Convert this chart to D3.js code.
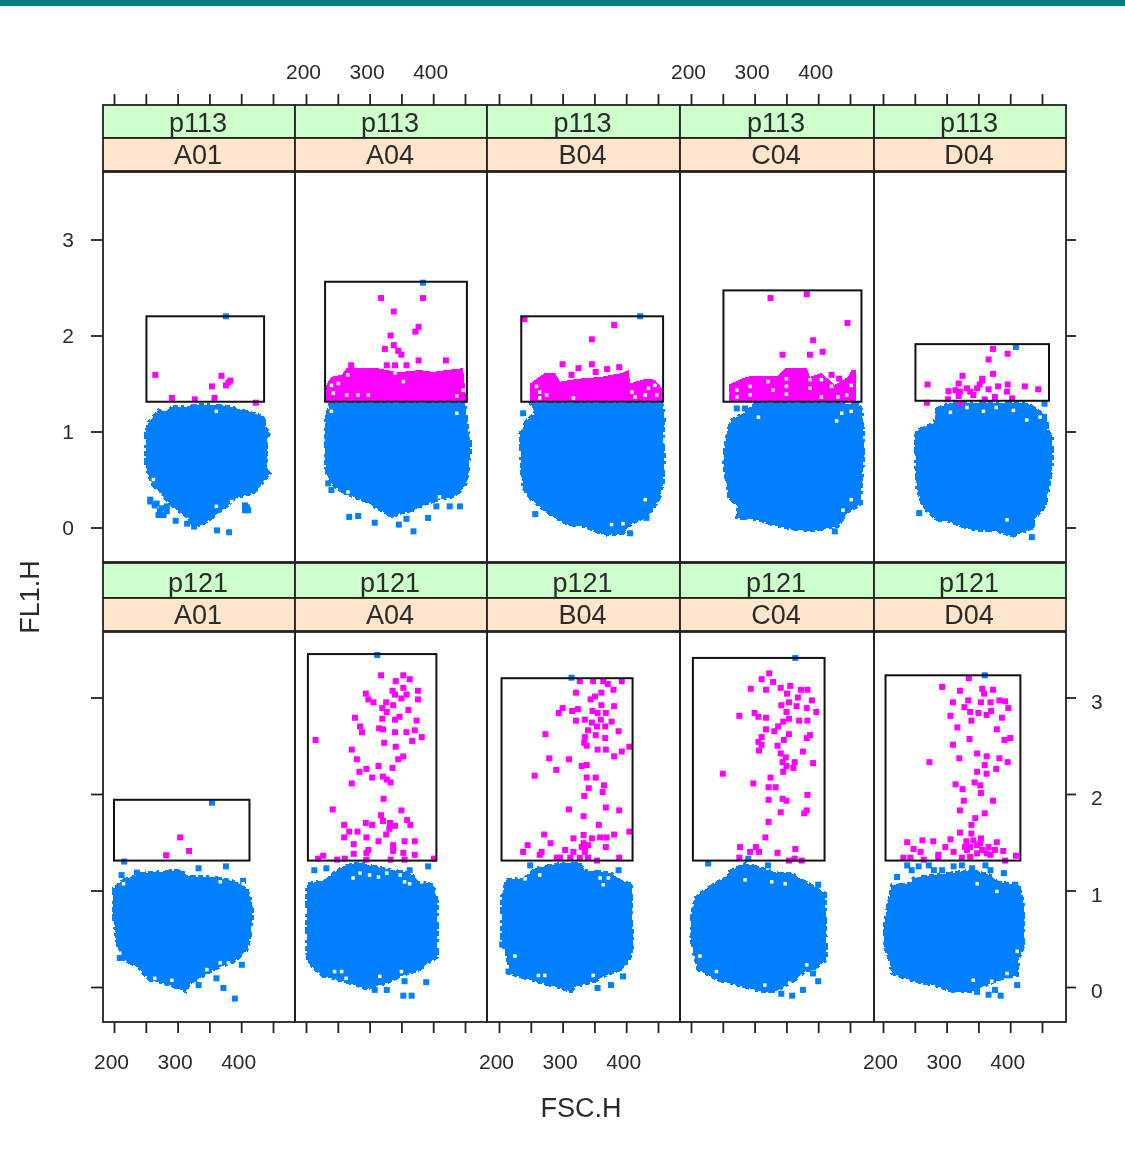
<!DOCTYPE html>
<html>
<head>
<meta charset="utf-8">
<title>FL1.H vs FSC.H</title>
<script src="https://cdn.jsdelivr.net/npm/d3@7"></script>
<style>
    html, body { margin: 0; padding: 0; background: #fff; }
    svg { display: block; filter: blur(0.5px); }
    text { font-family: "Liberation Sans", Arial, sans-serif; fill: #2a2a2a; }
</style>
</head>
<body>
<div id="chartContainer"></div>
<script>
// Conditioning levels
const samples = ['p113', 'p121'];
const wells = ['A01', 'A04', 'B04', 'C04', 'D04'];

// Axis ticks
const fscTicks = [200, 250, 300, 350, 400, 450];
const fscLabels = [200, 300, 400];
const fl1Ticks = [0, 1, 2, 3];

// Gates: [FSC min, FSC max, FL1 min, FL1 max]
const gateP113A01 = [251, 436, 1.31, 2.20];
const gateP113A04 = [230, 453, 1.31, 2.56];
const gateP113B04 = [235, 458, 1.31, 2.20];
const gateP113C04 = [251, 468, 1.31, 2.47];
const gateP113D04 = [251, 461, 1.32, 1.91];
const gateP121A01 = [200, 413, 1.31, 1.94];
const gateP121A04 = [203, 405, 1.31, 3.45];
const gateP121B04 = [204, 410, 1.31, 3.20];
const gateP121C04 = [203, 410, 1.31, 3.41];
const gateP121D04 = [204, 416, 1.31, 3.23];

// Outer edge of the solid blue cloud, [FSC, FL1]
const cloudP113A01 = [[262,1.155],[270,1.225],[285,1.207],[291,1.26],[314,1.26],[335,1.277],[356,1.277],[388,1.25],[409,1.207],[437,1.155],[437,1.05],[445,0.98],[440,0.91],[440,0.60],[445,0.56],[437,0.50],[430,0.43],[419,0.36],[398,0.32],[388,0.29],[377,0.22],[356,0.11],[338,0.03],[325,0.01],[317,0.10],[301,0.17],[288,0.25],[278,0.32],[262,0.43],[257,0.50],[250,0.63],[250,0.98],[254,1.09]];
const cloudP113A04 = [[238,1.30],[450,1.30],[452,1.155],[455,1.015],[458,0.91],[458,0.74],[455,0.60],[452,0.46],[445,0.39],[431,0.32],[410,0.29],[390,0.25],[369,0.18],[348,0.15],[335,0.10],[327,0.15],[311,0.20],[295,0.27],[274,0.32],[253,0.39],[240,0.46],[232,0.56],[230,0.74],[230,1.05],[232,1.155]];
const cloudP113B04 = [[249,1.30],[456,1.30],[460,1.155],[458,0.95],[460,0.74],[458,0.46],[453,0.32],[445,0.22],[435,0.13],[409,0.04],[395,-0.06],[367,-0.08],[335,0.01],[309,0.03],[288,0.10],[272,0.18],[251,0.29],[238,0.41],[235,0.63],[233,0.98],[244,1.12],[257,1.19]];
const cloudP113C04 = [[303,1.30],[463,1.29],[469,1.22],[471,0.98],[472,0.74],[468,0.46],[468,0.25],[445,0.15],[431,0.01],[384,-0.04],[337,0.01],[306,0.08],[272,0.10],[274,0.22],[259,0.32],[256,0.46],[251,0.70],[256,0.98],[264,1.12],[290,1.22]];
const cloudP113D04 = [[285,1.24],[306,1.30],[426,1.30],[458,1.155],[458,1.02],[466,0.95],[466,0.63],[460,0.39],[455,0.22],[437,0.08],[437,0.0],[405,-0.09],[379,-0.04],[337,-0.02],[306,0.06],[285,0.08],[264,0.2],[253,0.41],[251,0.77],[251,1.0],[280,1.09]];
const cloudP121A01 = [[215,1.11],[246,1.18],[283,1.20],[304,1.21],[319,1.14],[356,1.14],[393,1.09],[409,1.01],[416,0.90],[418,0.73],[414,0.52],[409,0.38],[388,0.26],[356,0.18],[335,0.09],[319,0.04],[313,-0.05],[288,0.02],[257,0.07],[236,0.21],[209,0.31],[204,0.49],[199,0.73],[199,1.02]];
const cloudP121A04 = [[203,1.07],[232,1.11],[243,1.18],[259,1.25],[285,1.29],[306,1.25],[337,1.21],[363,1.18],[379,1.09],[400,1.06],[406,0.90],[406,0.31],[392,0.25],[379,0.18],[348,0.11],[327,0.04],[295,-0.02],[259,0.06],[227,0.11],[203,0.25],[201,0.38],[201,1.04]];
const cloudP121B04 = [[212,1.11],[241,1.13],[257,1.23],[296,1.28],[327,1.28],[335,1.21],[377,1.18],[393,1.09],[409,1.07],[409,0.63],[411,0.45],[406,0.30],[395,0.19],[367,0.12],[351,0.06],[319,0.0],[314,-0.05],[291,0.0],[251,0.07],[217,0.14],[212,0.35],[204,0.45],[204,0.94]];
const cloudP121C04 = [[206,0.92],[222,1.01],[253,1.13],[261,1.20],[285,1.28],[337,1.18],[358,1.18],[379,1.09],[400,1.02],[411,0.97],[413,0.28],[392,0.18],[379,0.16],[363,0.07],[332,-0.05],[311,-0.05],[285,0.0],[243,0.07],[211,0.18],[203,0.38],[200,0.52],[201,0.73]];
const cloudP121D04 = [[211,0.95],[214,1.06],[243,1.07],[248,1.13],[306,1.18],[337,1.21],[369,1.16],[379,1.09],[413,1.06],[421,0.87],[421,0.42],[413,0.28],[411,0.12],[387,0.09],[363,0.02],[337,-0.05],[311,-0.05],[280,0.02],[248,0.06],[214,0.14],[209,0.31],[202,0.42],[202,0.63],[206,0.80]];

// Blue events standing apart from the cloud, [FSC, FL1]
const blueP113A01 = [[257,0.27],[264,0.23],[272,0.17],[283,0.17],[409,0.21],[297,0.07],[315,0.04],[326,0.01],[362,-0.03],[381,-0.05],[376,2.20],[267,0.25],[275,0.20],[283,0.22],[278,0.13],[270,0.13],[257,0.29],[406,0.23],[411,0.18],[406,0.18],[335,0.06],[330,0.13]];
const blueP113A04 = [[235,0.46],[240,0.39],[264,0.37],[405,0.22],[426,0.22],[442,0.22],[282,0.12],[268,0.11],[308,0.05],[358,0.09],[392,0.10],[346,0.03],[369,-0.04],[384,2.55],[236,1.19],[437,1.19]];
const blueP113B04 = [[238,1.19],[257,0.14],[406,-0.06],[416,0.10],[432,0.10],[422,2.20]];
const blueP113C04 = [[272,1.24],[285,1.24],[426,-0.04]];
const blueP113D04 = [[257,0.15],[434,-0.10],[409,1.88],[454,1.29]];
const blueP121A01 = [[354,1.91],[216,1.30],[212,1.16],[236,1.185],[333,1.23],[376,1.25],[333,0.02],[361,0.09],[372,-0.01],[390,-0.12],[401,0.23],[209,0.30],[403,1.10]];
const blueP121A04 = [[312,3.44],[213,1.21],[232,1.23],[392,1.25],[355,0.06],[389,0.05],[353,-0.09],[366,-0.09],[308,-0.03],[327,-0.03],[363,1.21]];
const blueP121B04 = [[314,3.205],[249,1.26],[388,1.21],[395,0.11],[376,0.02],[355,-0.01],[205,0.44],[215,0.16]];
const blueP121C04 = [[364,3.41],[227,1.28],[290,1.23],[321,1.26],[400,1.06],[400,0.06],[359,-0.09],[376,-0.03],[342,-0.07],[392,0.14],[290,1.33]];
const blueP121D04 = [[360,3.23],[238,1.26],[245,1.21],[256,1.25],[272,1.26],[280,1.21],[293,1.21],[311,1.25],[324,1.26],[340,1.23],[361,1.26],[369,1.21],[390,1.18],[222,1.14],[408,1.06],[376,-0.03],[366,-0.08],[385,-0.09],[411,0.02],[397,0.12],[348,-0.05]];

// Solid magenta band sitting on the gate floor, [FSC, FL1]
const bandP113A04 = [[232,1.314],[232,1.485],[240,1.57],[256,1.59],[264,1.66],[311,1.66],[327,1.64],[348,1.62],[379,1.64],[400,1.62],[421,1.64],[447,1.66],[452,1.314]];
const bandP113B04 = [[249,1.314],[249,1.50],[272,1.61],[288,1.61],[296,1.52],[325,1.55],[361,1.57],[393,1.61],[404,1.64],[406,1.50],[430,1.55],[445,1.54],[456,1.45],[457,1.314]];
const bandP113C04 = [[259,1.314],[259,1.485],[279,1.55],[295,1.58],[337,1.58],[348,1.66],[382,1.66],[387,1.57],[405,1.61],[426,1.485],[447,1.57],[452,1.64],[459,1.64],[460,1.314]];

// Empty spots inside the solid areas, [FSC, FL1]
const holesP113A01 = [[361,1.21],[262,0.50],[272,0.34],[361,0.22],[385,0.27]];
const holesP113A04 = [[240,1.48],[251,1.50],[243,1.40],[264,1.38],[266,1.59],[282,1.38],[298,1.38],[340,1.61],[437,1.37],[447,1.43],[353,1.52],[240,1.21],[437,1.19],[266,0.37],[410,0.32]];
const holesP113B04 = [[264,1.41],[264,1.35],[259,1.47],[275,1.38],[317,1.35],[409,1.41],[414,1.36],[435,1.45],[430,1.38],[445,1.48],[448,1.38],[377,0.03],[395,0.04],[430,0.29]];
const holesP113C04 = [[261,1.39],[272,1.43],[272,1.36],[293,1.47],[293,1.38],[321,1.52],[329,1.43],[350,1.55],[350,1.47],[350,1.39],[387,1.54],[387,1.45],[405,1.54],[421,1.47],[405,1.36],[431,1.36],[445,1.38],[452,1.48],[437,1.19],[452,1.21],[429,1.11],[306,1.15],[439,0.18],[452,0.29]];
const holesP113D04 = [[306,1.20],[332,1.25],[358,1.21],[378,1.25],[405,1.22],[426,1.12],[447,1.15],[395,0.08]];
const holesP121A01 = [[367,1.09],[403,1.07],[215,1.07],[367,0.25],[380,0.25],[346,0.18],[346,0.11],[209,0.35],[264,0.09],[291,0.07]];
const holesP121A04 = [[274,1.13],[285,1.18],[300,1.16],[314,1.14],[327,1.18],[348,1.16],[355,1.09],[363,1.07],[382,1.09],[245,0.16],[256,0.16],[263,0.09],[316,0.11],[350,0.16],[366,0.11]];
const holesP121B04 = [[264,1.16],[359,1.13],[372,1.13],[364,1.06],[225,0.32],[262,0.12],[272,0.12],[348,0.12],[241,1.12]];
const holesP121C04 = [[285,1.11],[327,1.09],[348,1.07],[214,0.32],[240,0.16],[316,0.02],[382,0.23],[379,0.09],[355,0.04]];
const holesP121D04 = [[348,1.07],[379,0.99],[342,0.07],[371,0.06],[395,0.14],[411,0.37]];

// Magenta events read one by one, [FSC, FL1]
const pinkP113A01 = [[265,1.59],[369,1.58],[380,1.51],[376,1.48],[383,1.53],[354,1.47],[291,1.35],[358,1.35],[327,1.335],[423,1.30]];
const pinkP113A04 = [[318,2.39],[384,2.39],[338,2.25],[377,2.09],[372,2.04],[333,2.0],[338,1.90],[324,1.86],[350,1.80],[377,1.74],[420,1.74],[271,1.69],[327,1.69],[340,1.69],[358,1.69],[345,1.84]];
const pinkP113B04 = [[240,2.17],[381,2.11],[346,1.96],[300,1.70],[346,1.70],[325,1.66],[314,1.59],[352,1.62],[370,1.65],[389,1.67]];
const pinkP113C04 = [[325,2.39],[382,2.43],[446,2.13],[392,1.95],[344,1.80],[387,1.80],[407,1.83],[421,1.59],[433,1.55],[265,1.39]];
const pinkP113D04 = [[373,1.86],[366,1.75],[396,1.81],[373,1.60],[325,1.58],[356,1.53],[270,1.49],[319,1.50],[314,1.43],[321,1.415],[303,1.42],[332,1.45],[348,1.45],[366,1.44],[381,1.47],[396,1.49],[423,1.47],[444,1.44],[395,1.415],[342,1.38],[337,1.415],[376,1.36],[403,1.345],[302,1.335],[360,1.335],[319,1.37],[269,1.30],[321,1.29],[356,1.55],[352,1.49]];
const pinkP121A01 = [[304,1.55],[282,1.365],[318,1.41]];
const pinkP121A04 = [[318,3.23],[353,3.23],[341,3.17],[363,3.19],[336,3.07],[353,3.10],[376,3.07],[294,3.04],[298,2.98],[306,2.95],[326,2.95],[337,2.92],[340,3.03],[350,2.99],[358,3.03],[376,2.98],[361,2.87],[320,2.89],[327,2.85],[320,2.78],[340,2.77],[347,2.80],[277,2.79],[374,2.76],[285,2.70],[288,2.64],[315,2.68],[321,2.67],[340,2.64],[358,2.64],[371,2.66],[382,2.59],[367,2.55],[215,2.56],[323,2.53],[341,2.49],[272,2.46],[345,2.36],[353,2.39],[280,2.36],[314,2.29],[336,2.27],[295,2.26],[284,2.23],[304,2.17],[321,2.18],[327,2.15],[333,2.12],[272,2.11],[322,1.95],[242,1.84],[350,1.83],[318,1.78],[321,1.72],[359,1.73],[364,1.68],[332,1.70],[340,1.67],[331,1.64],[326,1.58],[294,1.70],[304,1.68],[260,1.68],[268,1.61],[281,1.61],[260,1.55],[295,1.55],[314,1.51],[355,1.51],[371,1.51],[275,1.48],[337,1.47],[298,1.42],[337,1.41],[275,1.38],[295,1.39],[353,1.39],[371,1.37],[227,1.36],[219,1.33],[261,1.33],[249,1.32],[295,1.32],[333,1.32],[355,1.32],[401,1.33]];
const pinkP121B04 = [[327,3.17],[348,3.17],[364,3.17],[393,3.17],[371,3.14],[380,3.08],[321,3.05],[361,3.05],[351,3.01],[344,2.98],[361,2.92],[381,2.91],[300,2.89],[294,2.84],[315,2.86],[324,2.88],[347,2.86],[355,2.84],[368,2.84],[321,2.76],[335,2.77],[346,2.74],[354,2.70],[360,2.77],[377,2.75],[367,2.70],[388,2.65],[340,2.66],[273,2.62],[335,2.59],[352,2.61],[367,2.58],[334,2.53],[338,2.50],[405,2.49],[355,2.46],[368,2.46],[393,2.44],[381,2.39],[279,2.37],[310,2.36],[338,2.30],[330,2.29],[290,2.25],[256,2.19],[338,2.17],[352,2.17],[365,2.09],[341,2.06],[363,2.02],[334,1.98],[310,1.84],[368,1.86],[389,1.83],[333,1.77],[357,1.68],[405,1.61],[271,1.58],[381,1.58],[333,1.575],[317,1.54],[346,1.54],[359,1.55],[369,1.55],[281,1.49],[333,1.49],[340,1.47],[245,1.47],[368,1.45],[238,1.40],[267,1.40],[304,1.42],[317,1.40],[335,1.40],[291,1.34],[312,1.34],[327,1.34],[340,1.34],[389,1.34],[354,1.31],[264,1.37],[296,1.34],[335,1.45],[330,1.45]];
const pinkP121C04 = [[323,3.25],[311,3.19],[329,3.16],[356,3.12],[341,3.10],[294,3.09],[318,3.08],[373,3.08],[383,3.08],[351,3.04],[368,3.00],[390,2.97],[342,2.92],[354,2.95],[366,2.91],[382,2.89],[397,2.85],[350,2.85],[276,2.81],[300,2.84],[306,2.80],[318,2.79],[354,2.78],[345,2.75],[370,2.76],[383,2.76],[337,2.70],[318,2.67],[331,2.65],[354,2.62],[387,2.61],[382,2.58],[346,2.56],[311,2.59],[306,2.54],[311,2.51],[336,2.50],[307,2.45],[376,2.44],[341,2.42],[349,2.38],[344,2.33],[363,2.33],[392,2.32],[350,2.29],[361,2.27],[345,2.23],[250,2.21],[325,2.17],[298,2.11],[322,2.07],[333,2.07],[383,1.99],[344,1.95],[350,1.93],[322,1.94],[341,1.81],[382,1.83],[378,1.80],[322,1.71],[317,1.55],[277,1.45],[364,1.43],[302,1.45],[293,1.40],[307,1.40],[336,1.39],[276,1.34],[354,1.31],[363,1.33],[374,1.31]];
const pinkP121D04 = [[335,3.20],[293,3.11],[321,3.07],[356,3.09],[359,3.04],[373,3.08],[310,2.95],[334,2.97],[354,2.95],[369,2.95],[383,2.97],[392,2.96],[397,2.89],[328,2.90],[337,2.85],[350,2.84],[363,2.82],[370,2.86],[306,2.81],[387,2.79],[339,2.76],[317,2.69],[379,2.67],[336,2.57],[391,2.56],[400,2.58],[310,2.51],[320,2.37],[348,2.42],[363,2.39],[383,2.37],[396,2.33],[273,2.33],[360,2.30],[348,2.23],[363,2.21],[378,2.26],[344,2.12],[353,2.09],[314,2.10],[325,2.05],[354,2.01],[327,1.93],[373,1.93],[321,1.83],[345,1.75],[360,1.80],[339,1.68],[321,1.60],[339,1.59],[238,1.50],[262,1.52],[279,1.51],[306,1.53],[354,1.54],[331,1.51],[379,1.50],[298,1.45],[248,1.43],[259,1.40],[311,1.40],[337,1.45],[348,1.47],[366,1.45],[376,1.42],[389,1.41],[287,1.37],[232,1.34],[243,1.34],[264,1.32],[287,1.34],[324,1.34],[337,1.35],[369,1.37],[409,1.36],[392,1.31],[332,1.42],[348,1.385],[356,1.42],[342,1.52],[329,1.45],[353,1.49],[363,1.385]];

// Panel table, rows in the order they appear on the page
const panels = [
    { row: 0, col: 0, gate: gateP113A01, cloud: cloudP113A01, blue: blueP113A01, pink: pinkP113A01, band: null, holes: holesP113A01 },
    { row: 0, col: 1, gate: gateP113A04, cloud: cloudP113A04, blue: blueP113A04, pink: pinkP113A04, band: bandP113A04, holes: holesP113A04 },
    { row: 0, col: 2, gate: gateP113B04, cloud: cloudP113B04, blue: blueP113B04, pink: pinkP113B04, band: bandP113B04, holes: holesP113B04 },
    { row: 0, col: 3, gate: gateP113C04, cloud: cloudP113C04, blue: blueP113C04, pink: pinkP113C04, band: bandP113C04, holes: holesP113C04 },
    { row: 0, col: 4, gate: gateP113D04, cloud: cloudP113D04, blue: blueP113D04, pink: pinkP113D04, band: null, holes: holesP113D04 },
    { row: 1, col: 0, gate: gateP121A01, cloud: cloudP121A01, blue: blueP121A01, pink: pinkP121A01, band: null, holes: holesP121A01 },
    { row: 1, col: 1, gate: gateP121A04, cloud: cloudP121A04, blue: blueP121A04, pink: pinkP121A04, band: null, holes: holesP121A04 },
    { row: 1, col: 2, gate: gateP121B04, cloud: cloudP121B04, blue: blueP121B04, pink: pinkP121B04, band: null, holes: holesP121B04 },
    { row: 1, col: 3, gate: gateP121C04, cloud: cloudP121C04, blue: blueP121C04, pink: pinkP121C04, band: null, holes: holesP121C04 },
    { row: 1, col: 4, gate: gateP121D04, cloud: cloudP121D04, blue: blueP121D04, pink: pinkP121D04, band: null, holes: holesP121D04 }
];

// Layout (pixels)
const WIDTH = 1125;
const HEIGHT = 1149;
const colEdges = [103, 295, 487, 680, 874, 1066];
const fsc200Px = [114, 306, 499, 691, 883];
const rowLayout = [
    { stripTop: 105, stripMid: 138, stripBottom: 171, top: 172, bottom: 562, zeroPx: 527.5, unitPx: 96 },
    { stripTop: 563, stripMid: 598, stripBottom: 631, top: 632, bottom: 1022, zeroPx: 987, unitPx: 96.5 }
];
const BLUE = '#0080ff';
const PINK = '#ff00ff';
const LINE = '#222';
const POINT = 6;
const HOLE = 3.5;
const TICK = 11;

function xScale(col) {
    return d3.scaleLinear().domain([200, 450]).range([fsc200Px[col], fsc200Px[col] + 159]);
}

function yScale(row) {
    const r = rowLayout[row];
    return d3.scaleLinear().domain([0, 3]).range([r.zeroPx, r.zeroPx - 3 * r.unitPx]);
}

// Draw a list of [FSC, FL1] events as small squares
function drawSquares(g, data, x, y, size, fill) {
    g.append('g')
        .selectAll('rect')
        .data(data)
        .enter()
        .append('rect')
        .attr('x', d => x(d[0]) - size / 2)
        .attr('y', d => y(d[1]) - size / 2)
        .attr('width', size)
        .attr('height', size)
        .attr('fill', fill);
}

const svg = d3.select('#chartContainer')
    .append('svg')
    .attr('width', WIDTH)
    .attr('height', HEIGHT);

// Page band along the top edge
svg.append('rect').attr('width', WIDTH).attr('height', 6).attr('fill', '#008080');

// Panels: cloud, events, gate
panels.forEach(p => {
    const x = xScale(p.col);
    const y = yScale(p.row);
    const g = svg.append('g');
    const outline = d3.line().x(d => x(d[0])).y(d => y(d[1])).curve(d3.curveLinearClosed);

    // Broken stroke gives the cloud its grainy edge
    g.append('path')
        .attr('d', outline(p.cloud))
        .attr('fill', BLUE)
        .attr('stroke', BLUE)
        .attr('stroke-width', 3)
        .attr('stroke-dasharray', '5 3 3 6 7 2')
        .attr('shape-rendering', 'crispEdges');

    drawSquares(g, p.blue, x, y, POINT, BLUE);

    if (p.band) {
        g.append('path')
            .attr('d', outline(p.band))
            .attr('fill', PINK)
            .attr('shape-rendering', 'crispEdges');
    }

    drawSquares(g, p.holes, x, y, HOLE, '#fff');
    drawSquares(g, p.pink, x, y, POINT, PINK);

    g.append('rect')
        .attr('x', x(p.gate[0]))
        .attr('y', y(p.gate[3]))
        .attr('width', x(p.gate[1]) - x(p.gate[0]))
        .attr('height', y(p.gate[2]) - y(p.gate[3]))
        .attr('fill', 'none')
        .attr('stroke', '#111')
        .attr('stroke-width', 2);
});

// Strips and panel frames
rowLayout.forEach((r, row) => {
    wells.forEach((well, col) => {
        const left = colEdges[col];
        const w = colEdges[col + 1] - left;
        const mid = left + w / 2 - 1;

        const strips = [
            { y0: r.stripTop, y1: r.stripMid, fill: '#ccffcc', label: samples[row], lift: 6 },
            { y0: r.stripMid, y1: r.stripBottom, fill: '#ffe5cc', label: well, lift: 7 }
        ];
        strips.forEach(s => {
            svg.append('rect')
                .attr('x', left)
                .attr('y', s.y0)
                .attr('width', w)
                .attr('height', s.y1 - s.y0)
                .attr('fill', s.fill)
                .attr('stroke', LINE)
                .attr('stroke-width', 1.8);
            svg.append('text')
                .attr('x', mid)
                .attr('y', s.y1 - s.lift)
                .attr('text-anchor', 'middle')
                .style('font-size', '27px')
                .text(s.label);
        });

        svg.append('rect')
            .attr('x', left)
            .attr('y', r.top)
            .attr('width', w)
            .attr('height', r.bottom - r.top)
            .attr('fill', 'none')
            .attr('stroke', LINE)
            .attr('stroke-width', 1.8);
    });
});

function styleAxis(sel, fontSize) {
    sel.select('.domain').remove();
    sel.selectAll('.tick line').attr('stroke', LINE).attr('stroke-width', 1.8);
    sel.selectAll('.tick text').style('font-size', fontSize).attr('fill', '#2a2a2a');
}

// X axes: ticks on both sides, labels alternate between top and bottom
wells.forEach((well, col) => {
    const x = xScale(col);
    const labelled = v => fscLabels.includes(v) ? String(v) : '';

    const top = svg.append('g')
        .attr('transform', `translate(0,${rowLayout[0].stripTop})`)
        .call(d3.axisTop(x).tickValues(fscTicks).tickSize(TICK).tickPadding(15)
            .tickFormat(col % 2 === 1 ? labelled : () => ''));
    styleAxis(top, '21px');
    top.selectAll('.tick text').attr('dx', -3);

    const bottom = svg.append('g')
        .attr('transform', `translate(0,${rowLayout[1].bottom})`)
        .call(d3.axisBottom(x).tickValues(fscTicks).tickSize(TICK).tickPadding(21)
            .tickFormat(col % 2 === 0 ? labelled : () => ''));
    styleAxis(bottom, '21px');
    bottom.selectAll('.tick text').attr('dx', -3);
});

// Y axes: labels on the left for the top row, on the right for the bottom row
rowLayout.forEach((r, row) => {
    const y = yScale(row);

    const left = svg.append('g')
        .attr('transform', `translate(${colEdges[0]},0)`)
        .call(d3.axisLeft(y).tickValues(fl1Ticks).tickSize(TICK + 1).tickPadding(17)
            .tickFormat(row === 0 ? d3.format('d') : () => ''));
    styleAxis(left, '21px');

    const right = svg.append('g')
        .attr('transform', `translate(${colEdges[5]},0)`)
        .call(d3.axisRight(y).tickValues(fl1Ticks).tickSize(TICK - 1).tickPadding(15)
            .tickFormat(row === 1 ? d3.format('d') : () => ''));
    styleAxis(right, '21px');
    right.selectAll('.tick text').attr('dy', '0.52em');
});

// Axis titles
svg.append('text')
    .attr('x', 581)
    .attr('y', 1117)
    .attr('text-anchor', 'middle')
    .style('font-size', '27px')
    .text('FSC.H');

svg.append('text')
    .attr('transform', 'translate(39,597) rotate(-90)')
    .attr('text-anchor', 'middle')
    .style('font-size', '27px')
    .text('FL1.H');
</script>
</body>
</html>
